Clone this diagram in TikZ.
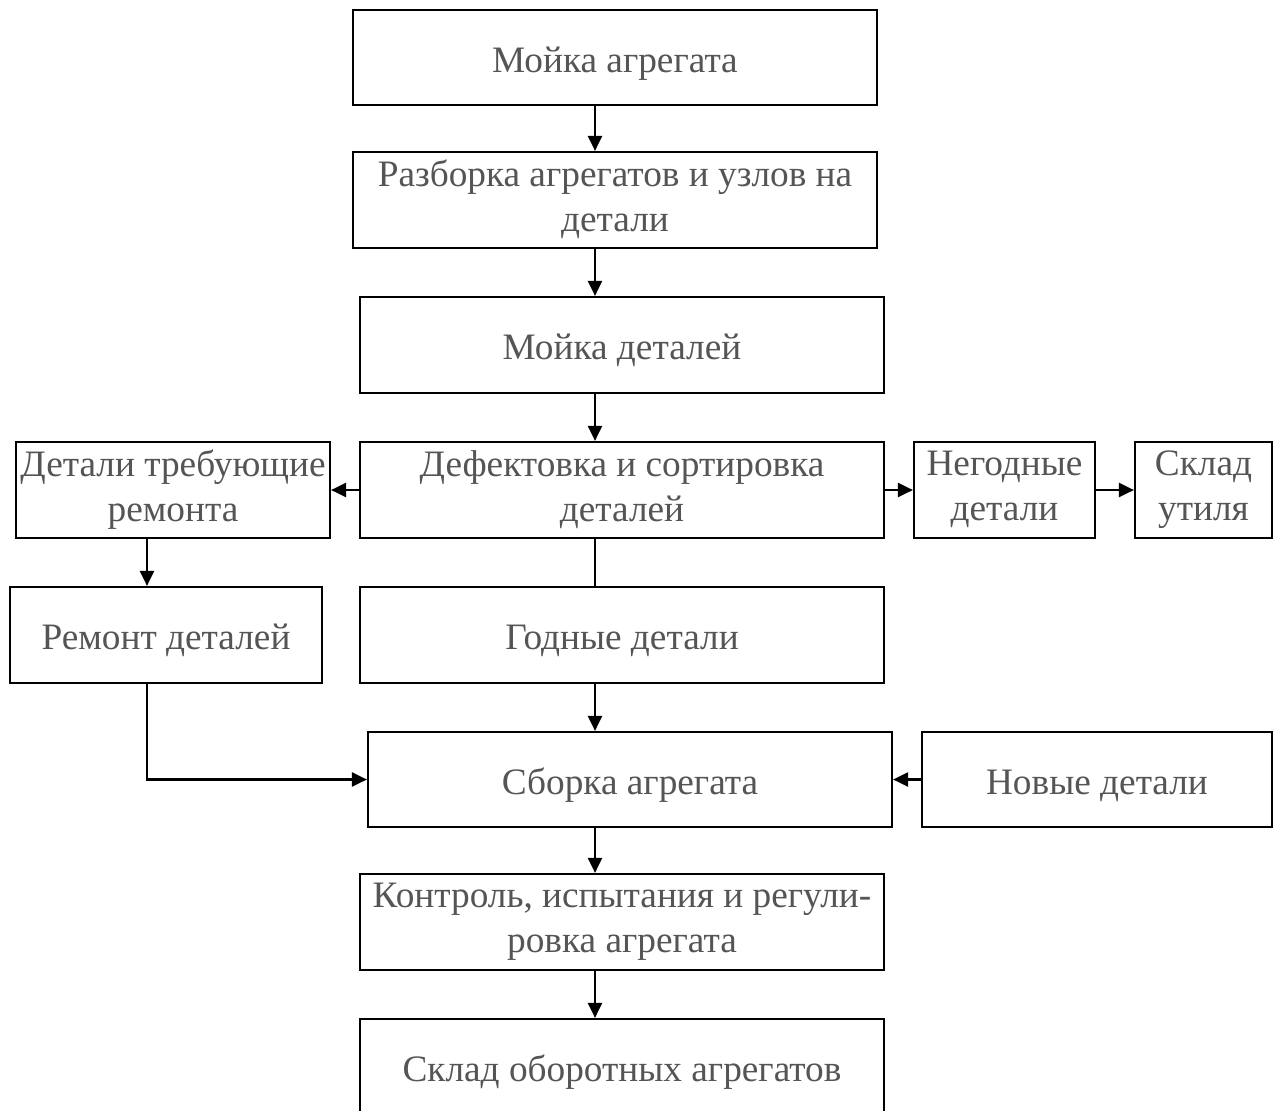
\documentclass[tikz,border=0pt]{standalone}
\usepackage{fontspec}
\setmainfont{Liberation Serif}
\usetikzlibrary{arrows.meta}
\definecolor{txtgray}{HTML}{555555}
\begin{document}
\begin{tikzpicture}[x=1pt,y=-1pt,
  box/.style={draw=black, line width=2.2pt, fill=white, inner sep=0pt, align=center,
    text=txtgray, font=\fontsize{37.3}{45}\selectfont,
    execute at begin node={\rule{0pt}{37pt}},
    execute at end node={\rule[-8pt]{0pt}{8pt}}},
  conn/.style={line width=2.2pt, draw=black},
  arr/.style={conn, -{Triangle[length=15pt,width=14pt]}}]
\useasboundingbox (0,0) rectangle (1275,1111);
\clip (0,0) rectangle (1275,1111);
\fill[white] (0,0) rectangle (1275,1111);
\coordinate (spine) at (595,0);
\coordinate (lspine) at (147,0);
% boxes
\node[box, minimum width=524pt, minimum height=95pt] (b1) at (615,57.5) {Мойка агрегата};
\node[box, minimum width=524pt, minimum height=96pt] (b2) at (615,200) {Разборка агрегатов и узлов на\\детали};
\node[box, minimum width=524pt, minimum height=96pt] (b3) at (622,345) {Мойка деталей};
\node[box, minimum width=524pt, minimum height=96pt] (b4) at (622,490) {Дефектовка и сортировка\\деталей};
\node[box, minimum width=314pt, minimum height=96pt] (det) at (173,490) {Детали требующие\\ремонта};
\node[box, minimum width=181pt, minimum height=96pt] (neg) at (1004.5,490) {Негодные\\детали};
\node[box, minimum width=137pt, minimum height=96pt] (util) at (1203.5,490) {Склад\\утиля};
\node[box, minimum width=312pt, minimum height=96pt] (rem) at (166,635) {Ремонт деталей};
\node[box, minimum width=524pt, minimum height=96pt] (god) at (622,635) {Годные детали};
\node[box, minimum width=524pt, minimum height=95pt] (sb) at (630,779.5) {Сборка агрегата};
\node[box, minimum width=350pt, minimum height=95pt] (nov) at (1097,779.5) {Новые детали};
\node[box, minimum width=524pt, minimum height=96pt] (kon) at (622,922) {Контроль, испытания и регули-\\ровка агрегата};
\node[box, minimum width=524pt, minimum height=96pt] (skl) at (622,1067) {Склад оборотных агрегатов};
% connectors
\draw[arr] (b1.south -| spine) -- (b2.north -| spine);
\draw[arr] (b2.south -| spine) -- (b3.north -| spine);
\draw[arr] (b3.south -| spine) -- (b4.north -| spine);
\draw[arr] (b4.west) -- (det.east);
\draw[arr] (b4.east) -- (neg.west);
\draw[arr] (neg.east) -- (util.west);
\draw[arr] (det.south -| lspine) -- (rem.north -| lspine);
\draw[conn] (b4.south -| spine) -- (god.north -| spine);
\draw[arr] (god.south -| spine) -- (sb.north -| spine);
\draw[arr] (rem.south -| lspine) |- (sb.west);
\draw[arr] (nov.west) -- (sb.east);
\draw[arr] (sb.south -| spine) -- (kon.north -| spine);
\draw[arr] (kon.south -| spine) -- (skl.north -| spine);
\end{tikzpicture}
\end{document}
